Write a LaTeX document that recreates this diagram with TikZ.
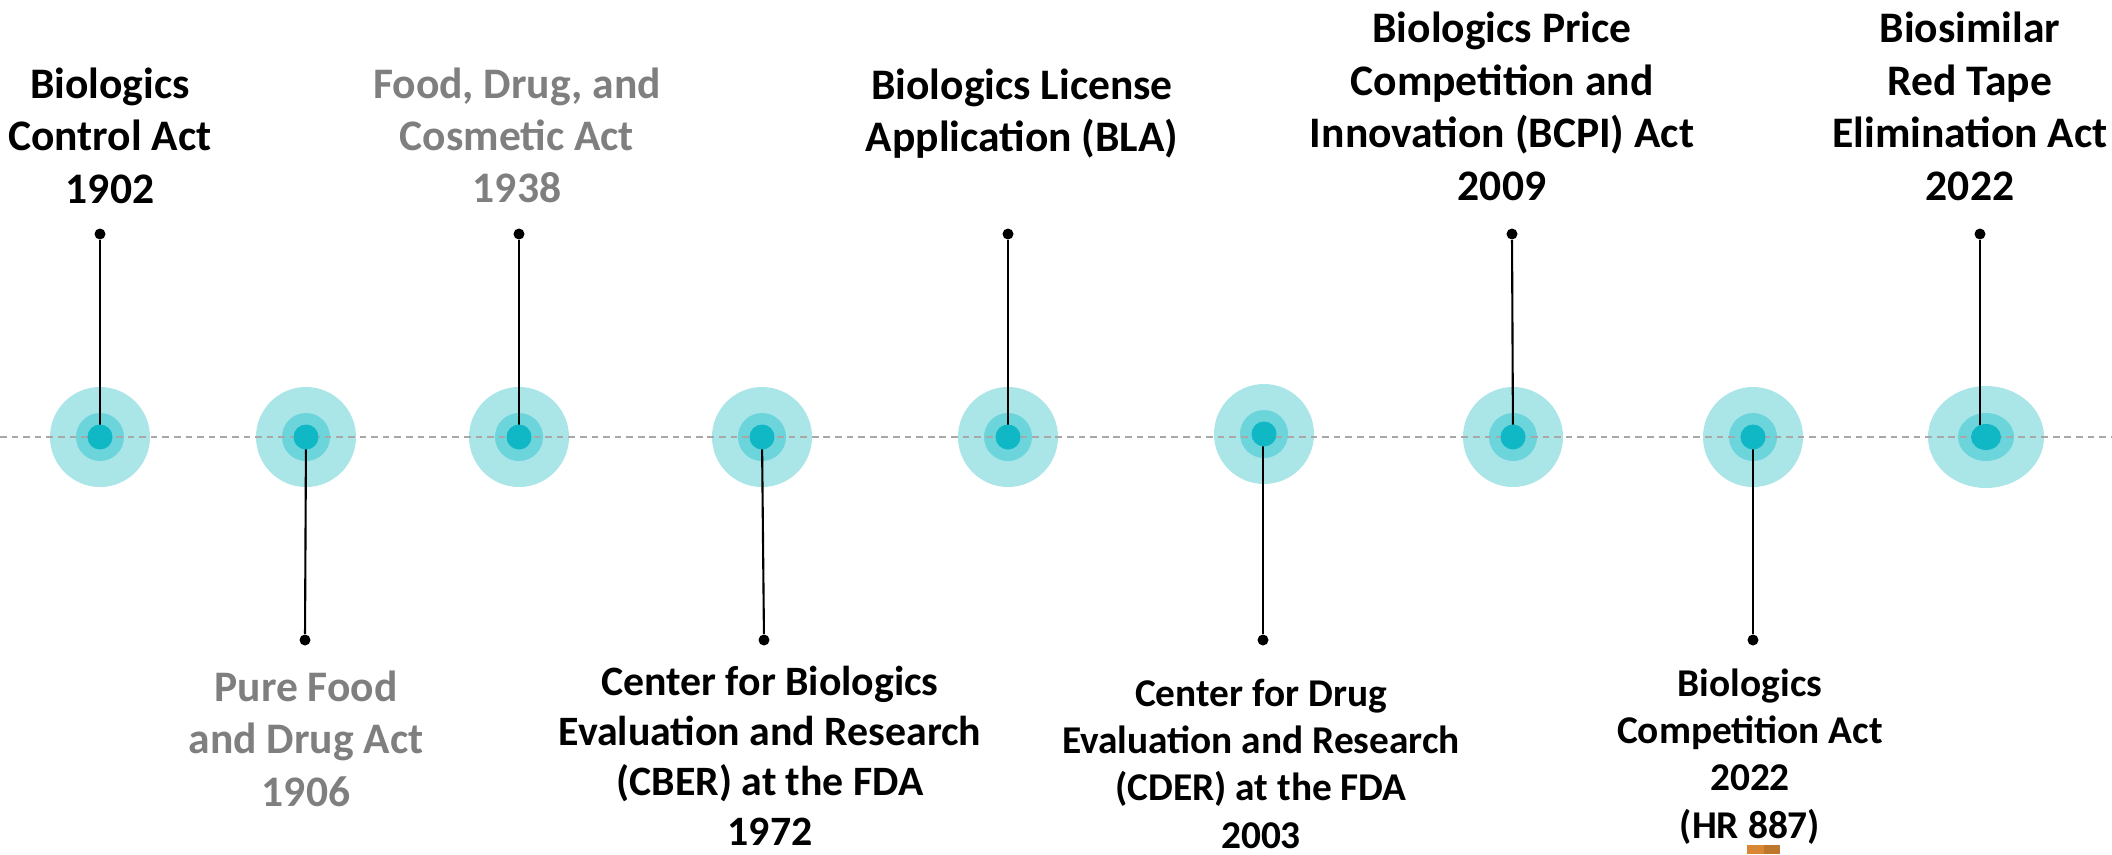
\documentclass[tikz,border=0pt]{standalone}
\usepackage{fontspec}
\setmainfont{Carlito}
\definecolor{haloouter}{RGB}{170, 229, 232}
\definecolor{halomid}{RGB}{108, 212, 219}
\definecolor{halocore}{RGB}{16, 184, 197}
\definecolor{axisgray}{RGB}{168, 168, 168}
\definecolor{pastgray}{RGB}{127, 127, 127}
\definecolor{tabbrown}{RGB}{216, 136, 52}
\usetikzlibrary{positioning, shapes.geometric}

\tikzset{
  halo/.style={circle, fill=haloouter, minimum size=1cm, inner sep=0pt},
  pin dot/.style={circle, fill=black, minimum size=0.11cm, inner sep=0pt},
  stem/.style={line width=0.6pt, black},
  timeline/.style={axisgray, line width=0.55pt, dash pattern=on 1.9pt off 1.4pt},
  event/.style={font=\bfseries\fontsize{12.4}{14.9}\selectfont, align=center, inner sep=0pt},
  event mid/.style={event, font=\bfseries\fontsize{11.9}{14.2}\selectfont},
  event small/.style={event, font=\bfseries\fontsize{11.2}{13.4}\selectfont},
}

\begin{document}
\begin{tikzpicture}
  \useasboundingbox (0,-4.17) rectangle (21.12,4.37);

  % halos along the axis
  \node[halo] (h1) at (1.00, 0) {};
  \node[halo] (h2) at (3.06, 0) {};
  \node[halo] (h3) at (5.19, 0) {};
  \node[halo] (h4) at (7.62, 0) {};
  \node[halo] (h5) at (10.08, 0) {};
  \node[halo] (h6) at (12.64, 0.03) {};
  \node[halo] (h7) at (15.13, 0) {};
  \node[halo] (h8) at (17.53, 0) {};
  \node[halo, ellipse, minimum width=1.16cm, minimum height=1.02cm] (h9) at (19.86, 0) {};
  \foreach \h in {h1,h2,h3,h4,h5,h6,h7,h8}
    \fill[halomid] (\h) circle (0.24);
  \fill[halomid] (h9) ellipse (0.28 and 0.24);

  % dashed axis
  \coordinate (west) at (0, 0);
  \coordinate (east) at (21.12, 0);
  \draw[timeline] (west) -- (east);

  % pins
  \node[pin dot] (p1) at (1.00, 2.03) {};
  \node[pin dot] (p2) at (3.05, -2.03) {};
  \node[pin dot] (p3) at (5.19, 2.03) {};
  \node[pin dot] (p4) at (7.64, -2.03) {};
  \node[pin dot] (p5) at (10.08, 2.03) {};
  \node[pin dot] (p6) at (12.63, -2.03) {};
  \node[pin dot] (p7) at (15.12, 2.03) {};
  \node[pin dot] (p8) at (17.53, -2.03) {};
  \node[pin dot] (p9) at (19.80, 2.03) {};
  \draw[stem] (p1) -- (h1.center);
  \draw[stem] (p2) -- (h2.center);
  \draw[stem] (p3) -- (h3.center);
  \draw[stem] (p4) -- (h4.center);
  \draw[stem] (p5) -- (h5.center);
  \draw[stem] (p6) -- (p6 |- h6.center);
  \draw[stem] (p7) -- (h7.center);
  \draw[stem] (p8) -- (h8.center);
  \draw[stem] (p9) -- (p9 |- h9.center);

  % cores on top
  \foreach \h in {h1,h2,h3,h4,h5,h6,h7,h8}
    \fill[halocore] (\h) circle (0.125);
  \fill[halocore] (h9) ellipse (0.15 and 0.13);

  % events above the axis
  \node[event, anchor=south] (e1) at (1.10, 2.33) {Biologics\\Control Act\\1902};
  \node[event, anchor=south, text=pastgray] (e3) at (5.17, 2.33) {Food, Drug, and\\Cosmetic Act\\1938};
  \node[event, anchor=south] (e5) at (10.22, 2.78) {Biologics License\\Application (BLA)};
  \node[event, anchor=south] (e7) at (15.02, 2.36) {Biologics Price\\Competition and\\Innovation (BCPI) Act\\2009};
  \node[event, anchor=south] (e9) at (19.70, 2.36) {Biosimilar\\Red Tape\\Elimination Act\\2022};

  % events below the axis (base = last line)
  \node[event, anchor=base, text=pastgray] (e2) at (3.06, -3.69) {Pure Food\\and Drug Act\\1906};
  \node[event mid, anchor=base] (e4) at (7.70, -4.08) {Center for Biologics\\Evaluation and Research\\(CBER) at the FDA\\1972};
  \node[event small, anchor=base] (e6) at (12.61, -4.11) {Center for Drug\\Evaluation and Research\\(CDER) at the FDA\\2003};
  \node[event small, anchor=base] (e8) at (17.50, -4.01) {Biologics\\Competition Act\\2022\\(HR 887)};

  % scrap of a tab at the bottom edge
  \fill[tabbrown] (17.47, -4.17) rectangle (17.64, -4.08);
  \fill[tabbrown!88!black] (17.64, -4.17) rectangle (17.80, -4.08);
\end{tikzpicture}
\end{document}
